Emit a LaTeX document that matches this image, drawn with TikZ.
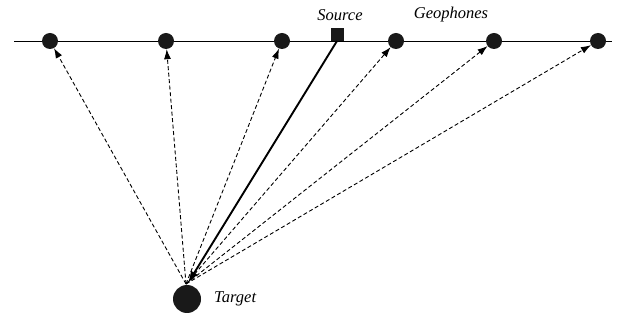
\documentclass[tikz,border=0pt]{standalone}
\usepackage{fontspec}
\setmainfont{Liberation Serif}
\usetikzlibrary{arrows.meta}
\begin{document}
\begin{tikzpicture}[x=1pt,y=-1pt,
  phone/.style={circle,fill=black!90,minimum size=16pt,inner sep=0pt},
  srcbox/.style={rectangle,fill=black!90,minimum size=13pt,inner sep=0pt},
  tgt/.style={circle,fill=black!90,minimum size=28pt,inner sep=0pt},
  lbl/.style={font=\fontsize{16.5}{18}\selectfont\itshape,inner sep=0pt},
  ray/.style={dashed,dash pattern=on 4pt off 2.5pt,line width=0.9pt,-{Latex[length=10pt,width=7pt]}},
  direct/.style={line width=1.9pt,-{Latex[length=12pt,width=8pt]}}]
\useasboundingbox (0,0) rectangle (624,320);
% surface line
\coordinate (L) at (14,41);
\coordinate (R) at (612,41);
\draw[line width=0.8pt] (L) -- (R);
% geophones
\node[phone] (g1) at (50,41) {};
\node[phone] (g2) at (166,41) {};
\node[phone] (g3) at (282,41) {};
\node[phone] (g4) at (396,41) {};
\node[phone] (g5) at (494,41) {};
\node[phone] (g6) at (598,41) {};
% source
\node[srcbox] (src) at (337,34.5) {};
% target
\node[tgt] (tg) at (187,299) {};
\coordinate (hub) at (186,284);
\coordinate (srcfoot) at (337,41);
% labels
\node[lbl] (slbl) at (340,15) {Source};
\node[lbl] (glbl) at (451,15) {Geophones};
\node[lbl,anchor=west] (tlbl) at (214,299) {Target};
% reflected rays
\foreach \g in {g1,g2,g3,g4,g5,g6}
  \draw[ray] (hub) -- (\g);
% direct ray from source to target
\draw[direct] (srcfoot) -- (188,283);
\end{tikzpicture}
\end{document}
